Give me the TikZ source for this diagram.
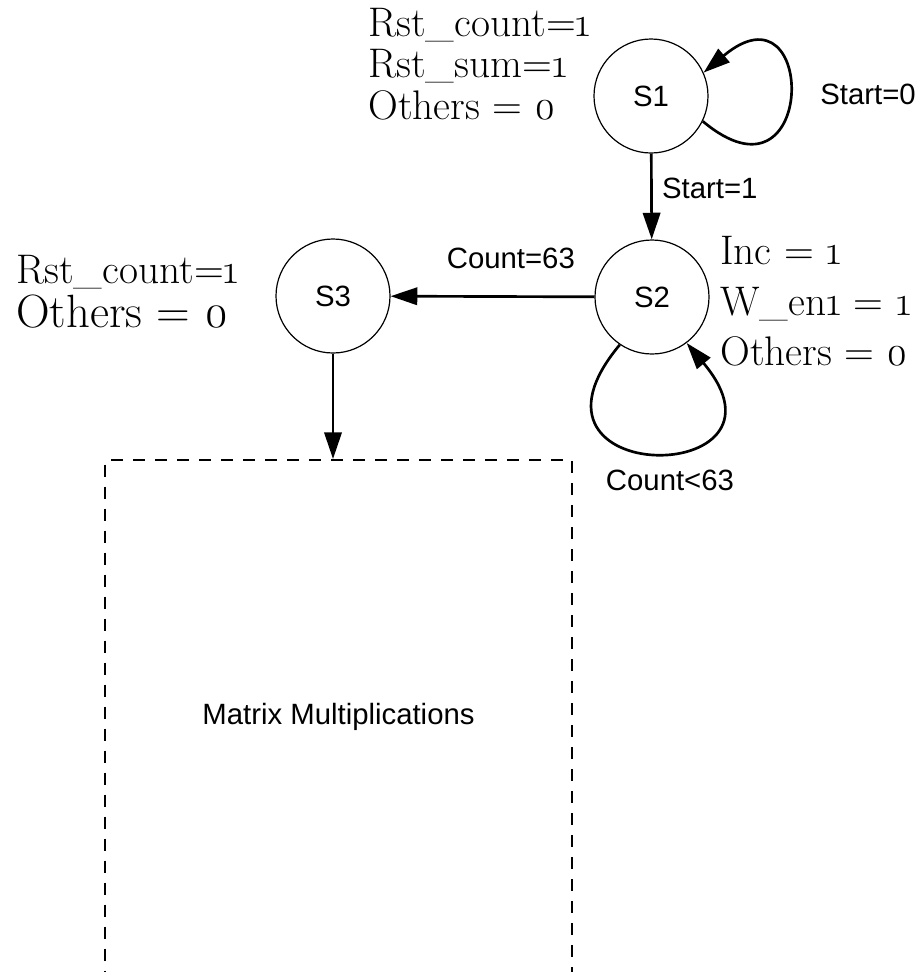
\documentclass[tikz,border=0pt]{standalone}
\usepackage{fontspec}
\setmainfont{Latin Modern Roman}[Numbers=OldStyle]
\newfontfamily\labelfont{Liberation Sans}
\usetikzlibrary{arrows.meta,positioning}

\begin{document}
\begin{tikzpicture}[x=0.75pt, y=-0.75pt,
			st/.style={draw, circle, line width=0.9pt, minimum size=85.5pt, inner sep=0pt, font=\labelfont\fontsize{22}{26}\selectfont},
			lbl/.style={font=\labelfont\fontsize{22}{26}\selectfont, inner sep=0pt},
			sig/.style={font=\fontsize{31}{31}\selectfont, align=left, inner sep=0pt, anchor=north west},
			arr/.style={-{Triangle[length=20pt,width=13pt]}, line width=2pt}]
			\useasboundingbox (0,0) rectangle (924,972);
			\node[st] (s1) at (651,96) {S1};
			\node[st] (s2) at (652,297) {S2};
			\node[st] (s3) at (333,296) {S3};
			\node[draw, dash pattern=on 9pt off 7.5pt, line width=1.5pt, minimum width=350pt, minimum height=385.5pt, font=\labelfont\fontsize{22}{26}\selectfont] (mm) at (338.5,717) {Matrix Multiplications};
			% transitions
			\draw[arr] (s1) -- node[lbl, right=7pt, pos=0.4] {Start=1} (s2);
			\draw[arr] (s2) -- node[lbl, above=20pt, pos=0.41] {Count=63} (s3);
			\draw[arr] (s3) -- (s3 |- mm.north);
			\draw[arr] (s1.-26) to[out=-40, in=40, distance=112pt] (s1.24);
			\draw[arr] (s2.-124) to[out=-130, in=-50, distance=142pt] (s2.-53);
			\node[lbl] (st0) at (868,94) {Start=0};
			\node[lbl] (cnt) at (670,480) {Count<63};
			% outputs of each state
			\node[sig] (o1) at (368,8) {Rst\_count=1\\Rst\_sum=1\\Others = 0};
			\node[sig, font=\fontsize{31}{38}\selectfont] (o2) at (720,236) {Inc = 1\\W\_en1 = 1\\Others = 0};
			\node[sig, font=\fontsize{31}{33}\selectfont] (o3) at (16,255) {Rst\_count=1\\{\fontsize{35}{33}\selectfont Others = 0}};
		\end{tikzpicture}
\end{document}
